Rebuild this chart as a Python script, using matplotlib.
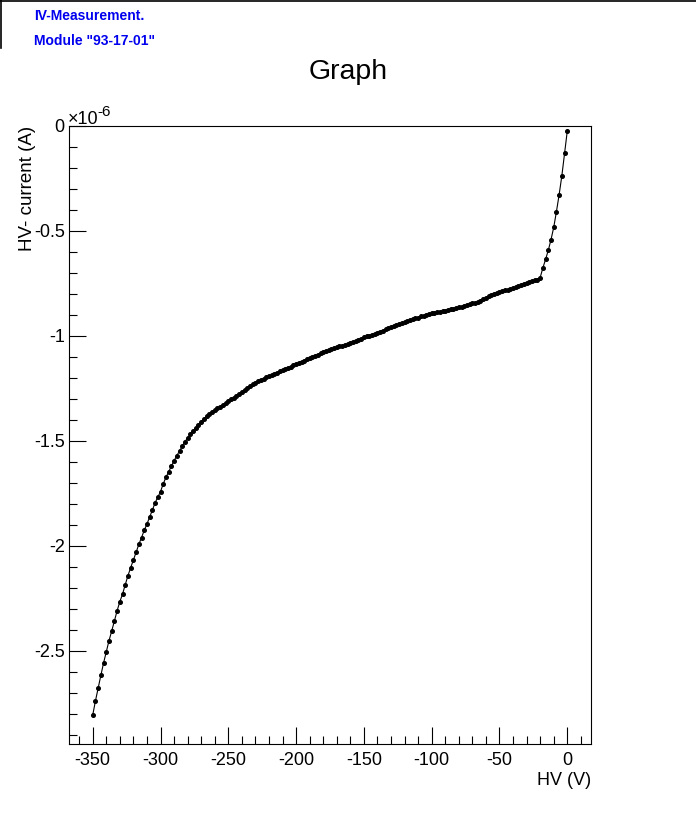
import numpy as np
import matplotlib
matplotlib.use('Agg')
import matplotlib.pyplot as plt
from matplotlib.ticker import MultipleLocator, FuncFormatter
from matplotlib.lines import Line2D

plt.rcParams['font.family'] = ['Liberation Sans', 'DejaVu Sans']
plt.rcParams['axes.unicode_minus'] = False

hv_volts = [
    -350, -348, -346, -344, -342, -340, -338, -336, -334, -332, -330, -328, -326, -324, -322, -320,
    -318, -316, -314, -312, -310, -308, -306, -304, -302, -300, -298, -296, -294, -292, -290, -288,
    -286, -284, -282, -280, -278, -276, -274, -272, -270, -268, -266, -264, -262, -260, -258, -256,
    -254, -252, -250, -248, -246, -244, -242, -240, -238, -236, -234, -232, -230, -228, -226, -224,
    -222, -220, -218, -216, -214, -212, -210, -208, -206, -204, -202, -200, -198, -196, -194, -192,
    -190, -188, -186, -184, -182, -180, -178, -176, -174, -172, -170, -168, -166, -164, -162, -160,
    -158, -156, -154, -152, -150, -148, -146, -144, -142, -140, -138, -136, -134, -132, -130, -128,
    -126, -124, -122, -120, -118, -116, -114, -112, -110, -108, -106, -104, -102, -100, -98, -96,
    -94, -92, -90, -88, -86, -84, -82, -80, -78, -76, -74, -72, -70, -68, -66, -64,
    -62, -60, -58, -56, -54, -52, -50, -48, -46, -44, -42, -40, -38, -36, -34, -32,
    -30, -28, -26, -24, -22, -20, -18, -16, -14, -12, -10, -8, -6, -4, -2, 0,
]

current_ua = [
    -2.805, -2.738, -2.676, -2.616, -2.557, -2.503, -2.451, -2.405, -2.356, -2.308, -2.265, -2.229, -2.184, -2.141, -2.103, -2.067,
    -2.030, -1.992, -1.960, -1.925, -1.895, -1.862, -1.829, -1.794, -1.767, -1.741, -1.704, -1.673, -1.646, -1.620, -1.594, -1.570,
    -1.548, -1.525, -1.503, -1.486, -1.469, -1.453, -1.438, -1.424, -1.410, -1.395, -1.382, -1.373, -1.363, -1.354, -1.345, -1.336,
    -1.328, -1.320, -1.311, -1.302, -1.293, -1.284, -1.274, -1.265, -1.256, -1.248, -1.239, -1.231, -1.223, -1.215, -1.209, -1.203,
    -1.197, -1.191, -1.186, -1.180, -1.174, -1.168, -1.163, -1.157, -1.151, -1.146, -1.140, -1.134, -1.128, -1.123, -1.117, -1.111,
    -1.106, -1.100, -1.094, -1.089, -1.083, -1.075, -1.071, -1.067, -1.062, -1.058, -1.054, -1.050, -1.046, -1.042, -1.038, -1.034,
    -1.029, -1.024, -1.019, -1.013, -1.007, -1.002, -0.998, -0.993, -0.989, -0.984, -0.979, -0.974, -0.969, -0.964, -0.959, -0.954,
    -0.949, -0.944, -0.940, -0.935, -0.930, -0.925, -0.920, -0.916, -0.912, -0.907, -0.903, -0.899, -0.895, -0.892, -0.889, -0.887,
    -0.884, -0.882, -0.879, -0.876, -0.873, -0.870, -0.867, -0.864, -0.860, -0.856, -0.853, -0.849, -0.845, -0.841, -0.837, -0.832,
    -0.826, -0.818, -0.810, -0.804, -0.798, -0.794, -0.790, -0.787, -0.783, -0.779, -0.775, -0.772, -0.768, -0.763, -0.757, -0.751,
    -0.747, -0.742, -0.738, -0.734, -0.731, -0.722, -0.676, -0.635, -0.592, -0.541, -0.483, -0.408, -0.327, -0.237, -0.130, -0.024,
]

title = 'Graph'
info_lines = ['IV-Measurement.', 'Module "93-17-01"']
x_label = 'HV (V)'
y_label = 'HV- current (A)'

W, H = 696, 822
fig = plt.figure(figsize=(W / 100, H / 100), dpi=100)

# axes frame in pixel terms of the reference
ax = fig.add_axes([69 / W, 1 - 744 / H, (591 - 69) / W, (744 - 126) / H])

current_a = np.array(current_ua) * 1e-6
ax.plot(hv_volts, current_a, color='black', lw=0.8,
        marker='o', ms=2.6, mfc='black', mec='black')

ax.set_xlim(-367.5, 17.5)
ax.set_ylim(-2.943e-6, 0)

ax.xaxis.set_major_locator(MultipleLocator(50))
ax.xaxis.set_minor_locator(MultipleLocator(10))
ax.yaxis.set_major_locator(MultipleLocator(0.5e-6))
ax.yaxis.set_minor_locator(MultipleLocator(0.1e-6))
ax.xaxis.set_major_formatter(FuncFormatter(lambda v, _: f'{v:g}'))
ax.yaxis.set_major_formatter(FuncFormatter(lambda v, _: f'{round(v * 1e6, 3):g}'))

ax.tick_params(which='both', direction='in', top=False, right=False,
               labelsize=13, width=0.8)
ax.tick_params(which='major', length=12)
ax.tick_params(which='minor', length=6)
ax.tick_params(axis='x', pad=6)
ax.tick_params(axis='y', pad=3)
for s in ax.spines.values():
    s.set_linewidth(0.8)

# exponent label next to the top tick (plain hyphen like ROOT)
fig.text(68 / W, 1 - 124 / H, '×10', fontsize=13, ha='left', va='baseline')
fig.text(97 / W, 1 - 116 / H, '-6', fontsize=11, ha='left', va='baseline')

# axis titles, ROOT-style placement
fig.text(28 / W, 1 - 126 / H, y_label, fontsize=13.5, rotation=90,
         ha='center', va='top')
fig.text(591 / W, 1 - 780 / H, x_label, fontsize=13, ha='right', va='center')

fig.text(348 / W, 1 - 72 / H, title, fontsize=20.5, ha='center', va='center')

# info box in the top-left corner
for i, line in enumerate(info_lines):
    fig.text(34 / W, 1 - (16 + 25 * i) / H, line, fontsize=10,
             fontweight='bold', color='#0000ee', ha='left', va='center')
fig.add_artist(Line2D([0, 1], [1 - 0.8 / H, 1 - 0.8 / H], color='black', lw=1.2))
fig.add_artist(Line2D([0.8 / W, 0.8 / W], [1, 1 - 48 / H], color='black', lw=1.2))

fig.savefig('out.png', dpi=100, facecolor='white')
